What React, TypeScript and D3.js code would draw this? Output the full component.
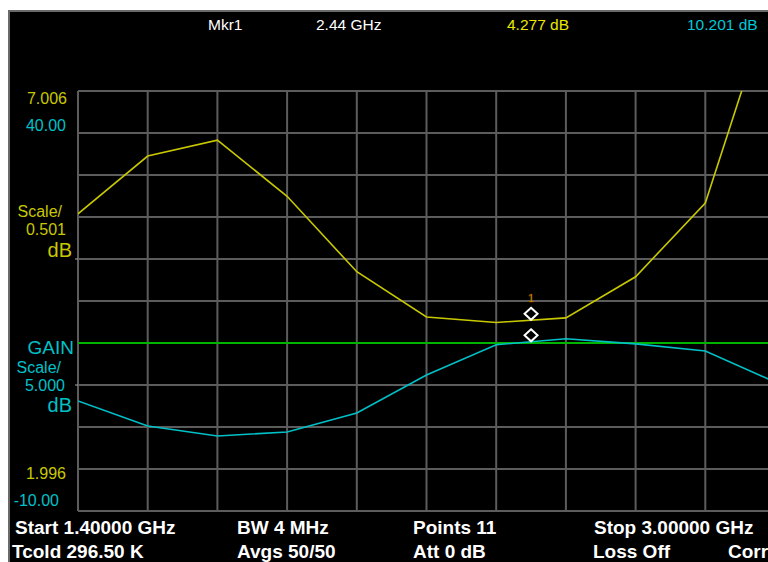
import React from "react";
import * as d3 from "d3";

const freqs = [1.4, 1.56, 1.72, 1.88, 2.04, 2.2, 2.36, 2.52, 2.68, 2.84, 3.0];
const noiseFigure = [5.54, 6.23, 6.42, 5.75, 4.85, 4.31, 4.245, 4.3, 4.79, 5.67, 8.23];
const gain = [3.1, 0.12, -1.07, -0.6, 1.67, 6.19, 9.8, 10.5, 9.9, 9.05, 5.36];
const markerFreq = 2.44;
const markerNF = 4.277;
const markerGain = 10.201;
const gainRef = 10;
const nfTop = 7.006;
const nfScale = 0.501;
const gainTop = 40;
const gainScale = 5;

const header = [
  { text: "Mkr1", x: 208, color: "#ffffff" },
  { text: "2.44 GHz", x: 316, color: "#ffffff" },
  { text: "4.277 dB", x: 507, color: "#e8e800" },
  { text: "10.201 dB", x: 687, color: "#00c8d8" },
];
const footerRow1 = [
  { text: "Start 1.40000 GHz", x: 15 },
  { text: "BW 4 MHz", x: 237 },
  { text: "Points 11", x: 413 },
  { text: "Stop 3.00000 GHz", x: 594 },
];
const footerRow2 = [
  { text: "Tcold 296.50 K", x: 12 },
  { text: "Avgs 50/50", x: 237 },
  { text: "Att 0 dB", x: 413 },
  { text: "Loss Off", x: 593 },
  { text: "Corr", x: 728 },
];

export default function App() {
  const L = 78, R = 775, T = 91, B = 511;
  const x = d3.scaleLinear().domain([1.4, 3.0]).range([L, R]);
  const nfBottom = nfTop - 10 * nfScale;
  const gainBottom = gainTop - 10 * gainScale;
  const yN = d3.scaleLinear().domain([nfBottom, nfTop]).range([B, T]);
  const yG = d3.scaleLinear().domain([gainBottom, gainTop]).range([B, T]);
  const gridY = d3.range(0, 11).map((i) => gainBottom + i * gainScale);

  const lineN = d3.line<number>().x((_, i) => x(freqs[i])).y((d) => yN(d));
  const lineG = d3.line<number>().x((_, i) => x(freqs[i])).y((d) => yG(d));

  const font = "'Liberation Sans', Arial, sans-serif";
  const yellow = "#c8c800";
  const cyan = "#00c0c8";
  const grid = "#5c5c5c";

  const mx = x(markerFreq);
  const myN = yN(markerNF);
  const myG = yG(markerGain);
  const diamond = (cx: number, cy: number) =>
    `M${cx},${cy - 12} L${cx + 6.5},${cy - 6} L${cx},${cy} L${cx - 6.5},${cy - 6} Z`;

  return (
    <svg
      width={768}
      height={562}
      style={{ position: "absolute", left: 0, top: 0, display: "block" }}
      fontFamily={font}
    >
      <defs>
        <clipPath id="plotClip">
          <rect x={L} y={T} width={R - L} height={B - T} />
        </clipPath>
      </defs>
      <rect x={0} y={0} width={768} height={562} fill="#ffffff" />
      <rect x={8} y={10} width={760} height={552} fill="#6a6a6a" />
      <rect x={10} y={12} width={758} height={550} fill="#000000" />

      {header.map((h) => (
        <text key={h.text} x={h.x} y={30} fontSize={15.5} fill={h.color}>
          {h.text}
        </text>
      ))}

      {freqs.map((f) => (
        <line key={"v" + f} x1={x(f)} x2={x(f)} y1={T} y2={B} stroke={grid} strokeWidth={2} />
      ))}
      {gridY.map((g) => (
        <line key={"h" + g} x1={L} x2={R} y1={yG(g)} y2={yG(g)} stroke={grid} strokeWidth={2} />
      ))}
      <line x1={75} x2={78} y1={yN(nfTop - 4 * nfScale) - 0} y2={yN(nfTop - 4 * nfScale)} stroke="#aaaaaa" strokeWidth={1} />
      <line x1={75} x2={78} y1={yG(gainTop - 7 * gainScale)} y2={yG(gainTop - 7 * gainScale)} stroke="#aaaaaa" strokeWidth={1} />

      <line x1={L} x2={768} y1={yG(gainRef)} y2={yG(gainRef)} stroke="#00b400" strokeWidth={2} />

      <g clipPath="url(#plotClip)">
        <path d={lineG(gain) || ""} fill="none" stroke={cyan} strokeWidth={1.6} />
        <path d={lineN(noiseFigure) || ""} fill="none" stroke={yellow} strokeWidth={1.6} />
      </g>

      <path d={diamond(mx, myN)} fill="none" stroke="#ffffff" strokeWidth={2} />
      <path d={diamond(mx, myG)} fill="none" stroke="#ffffff" strokeWidth={2} />
      <text x={mx} y={myN - 18} fontSize={11} textAnchor="middle" fill="#d8d800" stroke="#a03000" strokeWidth={0.4}>
        1
      </text>

      <g fontSize={16} textAnchor="end">
        <text x={67} y={104} fill={yellow}>{nfTop.toFixed(3)}</text>
        <text x={66} y={131} fill={cyan}>{gainTop.toFixed(2)}</text>
        <text x={62} y={217} fill={yellow}>Scale/</text>
        <text x={66} y={235} fill={yellow}>{nfScale.toFixed(3)}</text>
        <text x={72} y={257} fill={yellow} fontSize={20}>dB</text>
        <text x={74} y={354} fill={cyan} fontSize={19}>GAIN</text>
        <text x={61} y={373} fill={cyan}>Scale/</text>
        <text x={65} y={391} fill={cyan}>{gainScale.toFixed(3)}</text>
        <text x={72} y={412} fill={cyan} fontSize={20}>dB</text>
        <text x={66} y={479} fill={yellow}>{nfBottom.toFixed(3)}</text>
        <text x={59} y={506} fill={cyan}>{gainBottom.toFixed(2)}</text>
      </g>

      <g fontSize={19} fontWeight="bold" fill="#ffffff">
        {footerRow1.map((t) => (
          <text key={t.text} x={t.x} y={534}>{t.text}</text>
        ))}
        {footerRow2.map((t) => (
          <text key={t.text} x={t.x} y={558}>{t.text}</text>
        ))}
      </g>
    </svg>
  );
}
